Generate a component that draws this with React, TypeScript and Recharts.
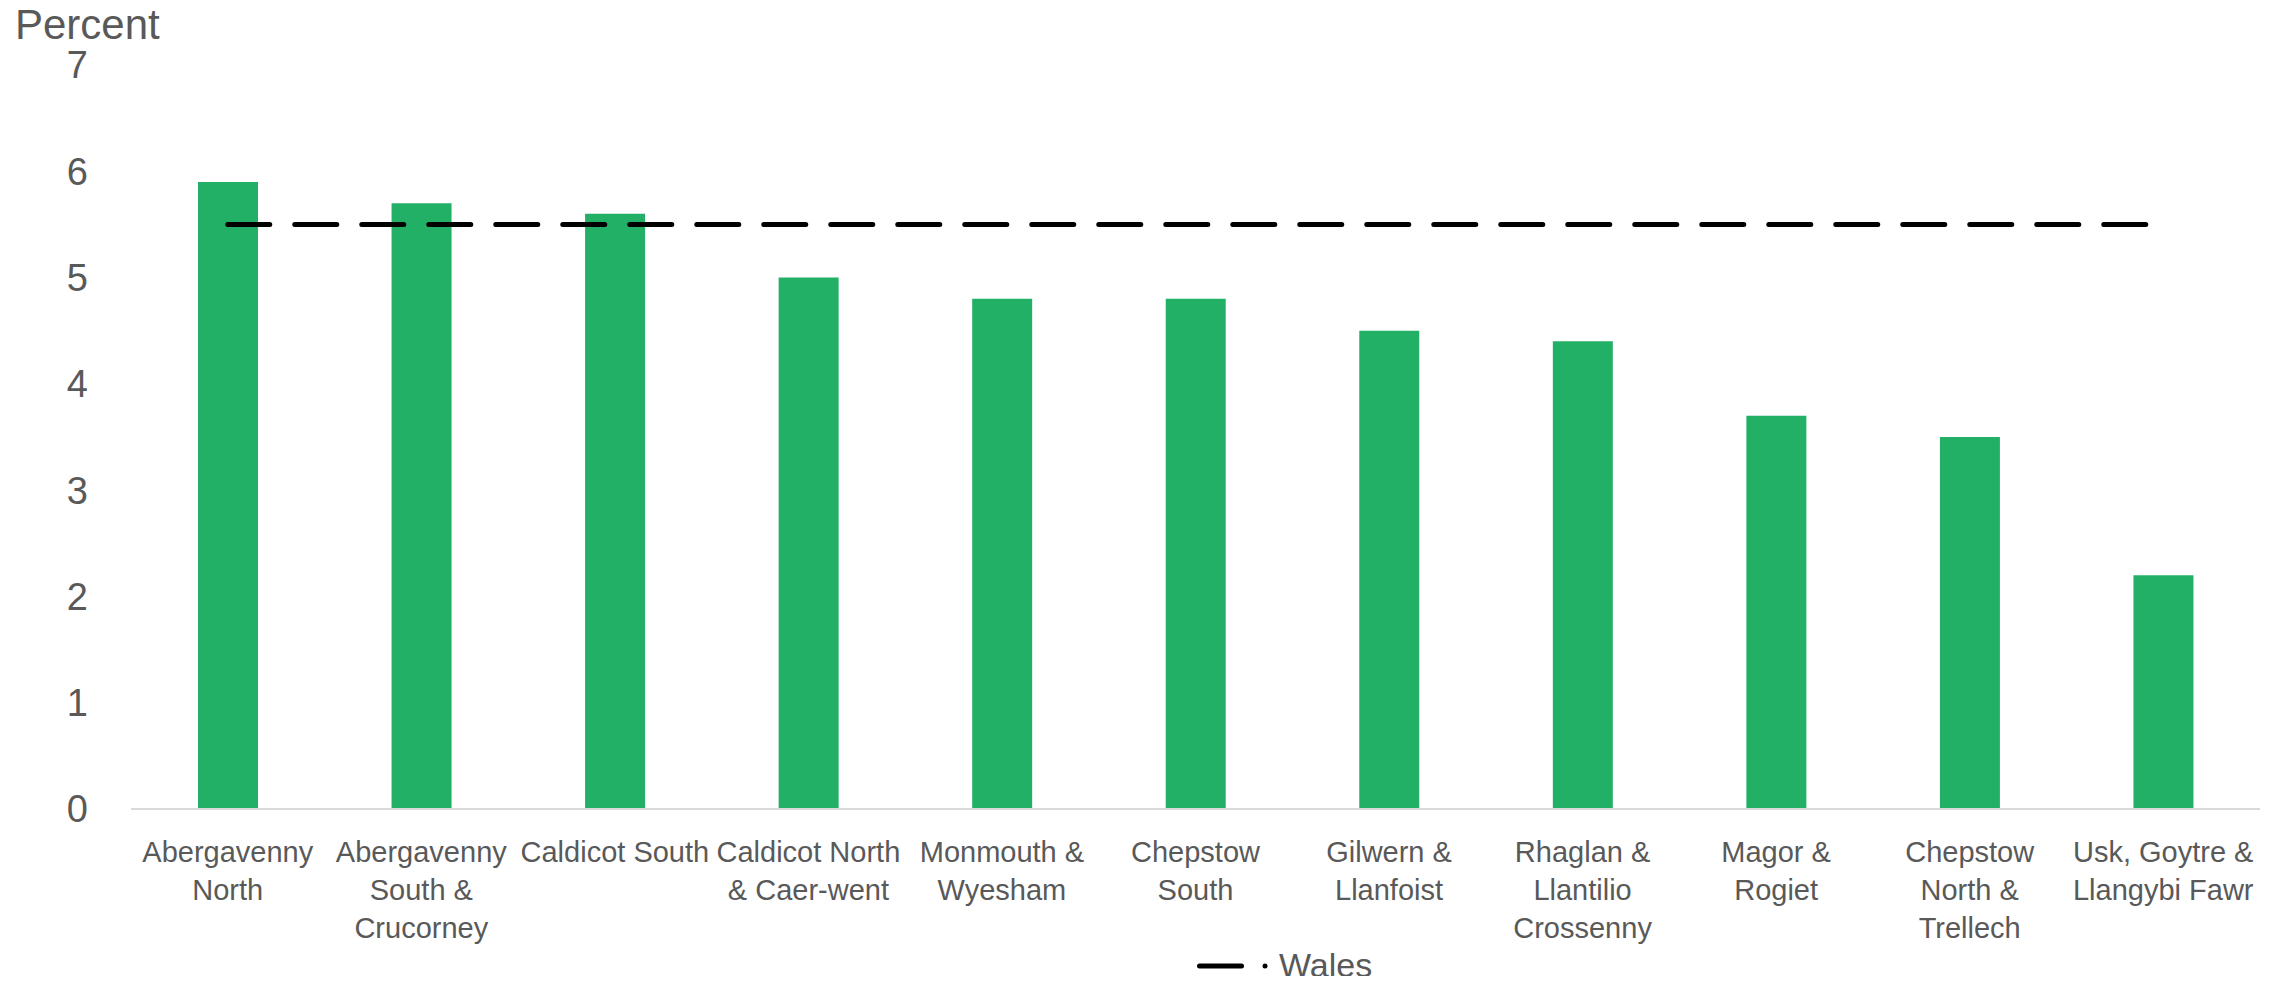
import React from "react";
import {
  BarChart,
  Bar,
  Line,
  XAxis,
  YAxis,
  Legend,
} from "recharts";

// wards, sorted by value (labels carry their line breaks)
const wards = [
  "Abergavenny\nNorth",
  "Abergavenny\nSouth &\nCrucorney",
  "Caldicot South",
  "Caldicot North\n& Caer-went",
  "Monmouth &\nWyesham",
  "Chepstow\nSouth",
  "Gilwern &\nLlanfoist",
  "Rhaglan &\nLlantilio\nCrossenny",
  "Magor &\nRogiet",
  "Chepstow\nNorth &\nTrellech",
  "Usk, Goytre &\nLlangybi Fawr",
];

const wardValues = [5.9, 5.7, 5.6, 5.0, 4.8, 4.8, 4.5, 4.4, 3.7, 3.5, 2.2];

const walesValues = [5.5, 5.5, 5.5, 5.5, 5.5, 5.5, 5.5, 5.5, 5.5, 5.5, 5.5];

const yTicks = [0, 1, 2, 3, 4, 5, 6, 7];

const data = wards.map((ward, i) => ({
  ward,
  value: wardValues[i],
  wales: walesValues[i],
}));

const FONT = "'Liberation Sans', Arial, sans-serif";
const TEXT = "#595959";

function WardTick(props: any) {
  const { x, y, payload } = props;
  const lines = String(payload.value).split("\n");
  return (
    <text
      x={x}
      y={y}
      textAnchor="middle"
      fill={TEXT}
      fontSize={29}
      fontFamily={FONT}
    >
      {lines.map((line, i) => (
        <tspan key={i} x={x} dy={i === 0 ? 53 : 38}>
          {line}
        </tspan>
      ))}
    </text>
  );
}

function percentTitle() {
  return (
    <text x={15} y={39} fill={TEXT} fontSize={42} fontFamily={FONT}>
      Percent
    </text>
  );
}

function WalesLegend(props: any) {
  const entry = (props.payload || []).find((p: any) => p.value === "Wales");
  if (!entry) return null;
  return (
    <svg width={240} height={50}>
      <line
        x1={19.5}
        x2={61.5}
        y1={26}
        y2={26}
        stroke={entry.color}
        strokeWidth={5}
        strokeLinecap="round"
      />
      <circle cx={85} cy={26} r={2.5} fill={entry.color} />
      <text x={99} y={37} fill={TEXT} fontSize={34} fontFamily={FONT}>
        {entry.value}
      </text>
    </svg>
  );
}

export default function App() {
  return (
    <div style={{ fontFamily: FONT, margin: -8 }}>
      <BarChart
        width={2282}
        height={984}
        data={data}
        margin={{ top: 65, right: 22, bottom: 35, left: 0 }}
        barSize={60}
      >
        <XAxis
          dataKey="ward"
          interval={0}
          height={140}
          tickLine={false}
          tickSize={0}
          tickMargin={0}
          axisLine={{ stroke: "#D9D9D9", strokeWidth: 2 }}
          tick={<WardTick />}
        />
        <YAxis
          width={131}
          domain={[0, 7]}
          ticks={yTicks}
          axisLine={false}
          tickLine={false}
          tickSize={0}
          tickMargin={43}
          tick={{ fill: TEXT, fontSize: 38, fontFamily: FONT }}
          label={percentTitle}
        />
        <Bar
          dataKey="value"
          name="Percent"
          fill="#22B066"
          legendType="none"
          isAnimationActive={false}
        />
        <Line
          type="linear"
          dataKey="wales"
          name="Wales"
          stroke="#000000"
          strokeWidth={5}
          strokeDasharray="42 25"
          strokeLinecap="round"
          dot={false}
          activeDot={false}
          isAnimationActive={false}
        />
        <Legend
          layout="horizontal"
          align="center"
          verticalAlign="middle"
          content={<WalesLegend />}
          wrapperStyle={{ left: 1180, top: 940, width: 240, height: 50 }}
        />
      </BarChart>
    </div>
  );
}
